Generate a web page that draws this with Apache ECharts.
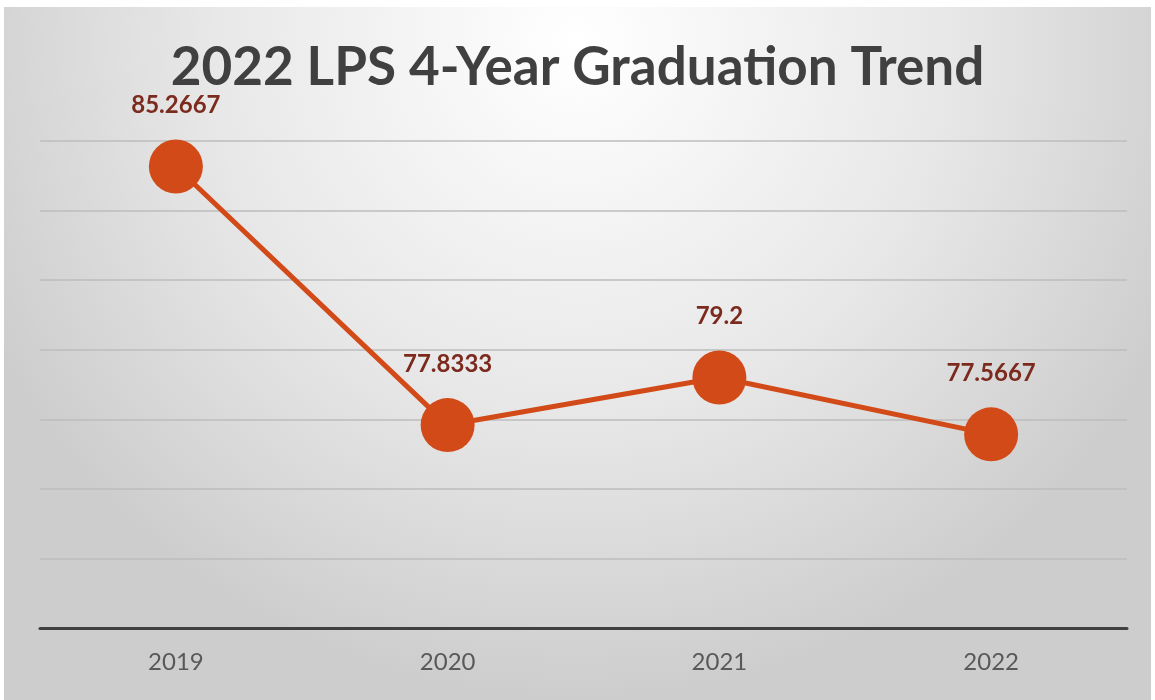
<!DOCTYPE html>
<html>
<head>
<meta charset="utf-8">
<script src="https://cdn.jsdelivr.net/npm/echarts@6/dist/echarts.min.js"></script>
<style>
  html, body { margin: 0; padding: 0; background: #fff; }
  #chart { position: absolute; left: 4px; top: 7px; width: 1147px; height: 693px; }
</style>
</head>
<body>
<div id="chart"></div>
<script>
// graduation rate per year
var years = ['2019', '2020', '2021', '2022']
var rates = [85.2667, 77.8333, 79.2, 77.5667]

var chart = echarts.init(document.getElementById('chart'))

var option = {
  backgroundColor: new echarts.graphic.RadialGradient(0.5, 0.05, 0.95, [{
    offset: 0,
    color: '#ffffff'
  }, {
    offset: 0.55,
    color: '#e8e8e8'
  }, {
    offset: 1,
    color: '#cdcdcd'
  }]),
  title: {
    text: '2022 LPS 4-Year Graduation Trend',
    left: 'center',
    top: 29,
    textStyle: {
      fontFamily: 'Lato',
      fontWeight: 'bold',
      fontSize: 53,
      color: '#404040'
    }
  },
  grid: {
    left: 36,
    right: 24,
    top: 134,
    bottom: 72
  },
  xAxis: {
    type: 'category',
    data: years,
    axisLine: { lineStyle: { color: '#404040', width: 3 } },
    axisTick: { show: false },
    axisLabel: {
      margin: 22,
      fontSize: 24,
      fontFamily: 'Lato',
      color: '#595959'
    }
  },
  yAxis: {
    type: 'value',
    min: 72,
    max: 86,
    interval: 2,
    axisLabel: { show: false },
    axisLine: { show: false },
    axisTick: { show: false },
    splitLine: { lineStyle: { color: '#bdbdbd', width: 1.5 } }
  },
  series: [{
    type: 'line',
    data: rates,
    symbol: 'circle',
    symbolSize: 54,
    lineStyle: { color: '#d24a17', width: 5 },
    itemStyle: { color: '#d24a17' },
    label: {
      show: true,
      position: 'top',
      distance: 22,
      fontFamily: 'Lato',
      fontWeight: 'bold',
      fontSize: 24,
      color: '#7b2a1d'
    }
  }]
}
chart.setOption(option)
</script>
</body>
</html>
